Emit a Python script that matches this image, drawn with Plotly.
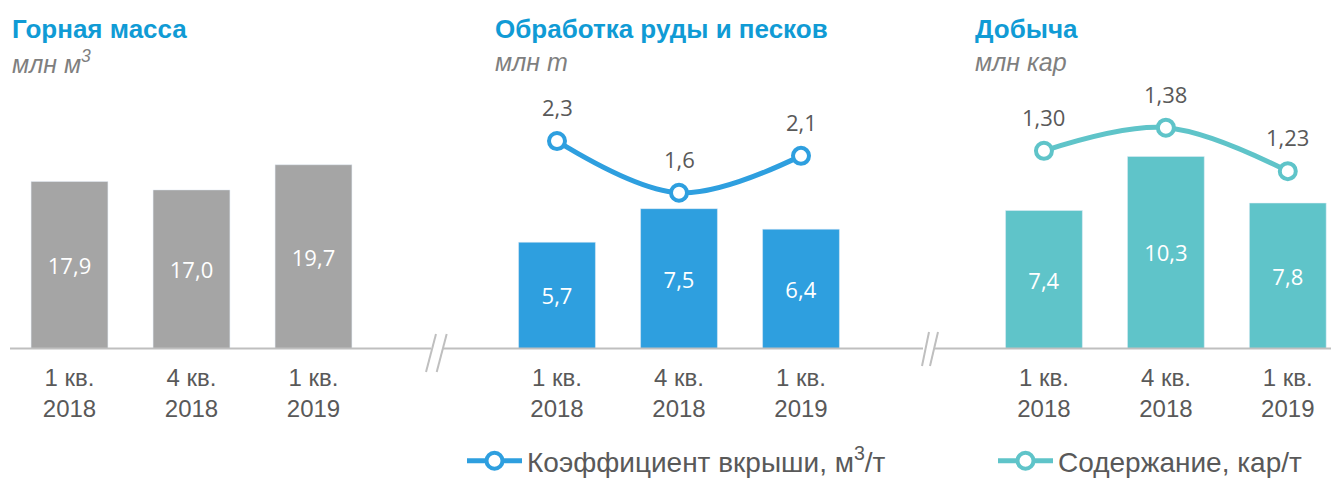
import plotly.graph_objects as go

# page (body) offset of the rendered figure
OX, OY = 8, 8
FW, FH = 1339 - OX, 479 - OY

# ---- data ----
quarters = ["1 кв.<br>2018", "4 кв.<br>2018", "1 кв.<br>2019"]
rock_mass = [17.9, 17.0, 19.7]            # млн м3
ore_processing = [5.7, 7.5, 6.4]          # млн т
stripping_ratio = [2.3, 1.6, 2.1]         # м3/т
production = [7.4, 10.3, 7.8]             # млн кар
grade = [1.30, 1.38, 1.23]                # кар/т

titles = ["Горная масса", "Обработка руды и песков", "Добыча"]
units = ["<i>млн м<sup>3</sup></i>", "<i>млн т</i>", "<i>млн кар</i>"]
legend_names = ["Коэффициент вкрыши, м<sup>3</sup>/т", "Содержание, кар/т"]

GRAY = "#A5A5A5"
BLUE = "#2E9FDF"
TEAL = "#5FC4C9"
TITLE_C = "#109BD5"
UNIT_C = "#7F7F7F"
TEXT_C = "#595959"
BASE_C = "#BFBFBF"


def fmt(v, d=1):
    return f"{v:.{d}f}".replace(".", ",")


def px_x(p):
    return (p - OX) / FW


def px_y(p):
    return (479 - p) / FH


ydom = [px_y(348.5), px_y(80)]

fig = go.Figure()

num_font = dict(family="Open Sans", size=22, color="white")

fig.add_trace(go.Bar(x=quarters, y=rock_mass, marker_color=GRAY,
                     text=[fmt(v) for v in rock_mass], textposition="inside",
                     insidetextanchor="middle", textangle=0, textfont=num_font,
                     xaxis="x", yaxis="y", showlegend=False, hoverinfo="skip"))
fig.add_trace(go.Bar(x=quarters, y=ore_processing, marker_color=BLUE,
                     text=[fmt(v) for v in ore_processing], textposition="inside",
                     insidetextanchor="middle", textangle=0, textfont=num_font,
                     xaxis="x2", yaxis="y2", showlegend=False, hoverinfo="skip"))
fig.add_trace(go.Bar(x=quarters, y=production, marker_color=TEAL,
                     text=[fmt(v) for v in production], textposition="inside",
                     insidetextanchor="middle", textangle=0, textfont=num_font,
                     xaxis="x3", yaxis="y4", showlegend=False, hoverinfo="skip"))

fig.add_trace(go.Scatter(x=quarters, y=stripping_ratio, mode="lines+markers",
                         name=legend_names[0], legend="legend",
                         line=dict(color=BLUE, width=5, shape="spline"),
                         marker=dict(size=16, color="white", line=dict(color=BLUE, width=4)),
                         xaxis="x2", yaxis="y3"))
fig.add_trace(go.Scatter(x=quarters, y=grade, mode="lines+markers",
                         name=legend_names[1], legend="legend2",
                         line=dict(color=TEAL, width=5, shape="spline"),
                         marker=dict(size=16, color="white", line=dict(color=TEAL, width=4)),
                         xaxis="x3", yaxis="y5"))

annotations = []
lbl_font = dict(family="Open Sans", size=22, color=TEXT_C)
for q, v in zip(quarters, stripping_ratio):
    annotations.append(dict(x=q, y=v, xref="x2", yref="y3", text=fmt(v, 1),
                            showarrow=False, yshift=34, font=lbl_font))
for q, v in zip(quarters, grade):
    annotations.append(dict(x=q, y=v, xref="x3", yref="y5", text=fmt(v, 2),
                            showarrow=False, yshift=34, font=lbl_font))

title_x = [10, 493, 973]
for tx, t, u in zip(title_x, titles, units):
    annotations.append(dict(x=px_x(tx), y=px_y(29), xref="paper", yref="paper",
                            xanchor="left", yanchor="middle", showarrow=False,
                            text=f"<b>{t}</b>",
                            font=dict(family="Liberation Sans", size=26, color=TITLE_C)))
    annotations.append(dict(x=px_x(tx), y=px_y(62), xref="paper", yref="paper",
                            xanchor="left", yanchor="middle", showarrow=False,
                            text=u,
                            font=dict(family="Liberation Sans", size=25, color=UNIT_C)))

# baseline with breaks
shapes = []
segments = [(10, 431), (443, 923), (935, 1339)]
for a, b in segments:
    shapes.append(dict(type="line", xref="paper", yref="paper",
                       x0=px_x(a), x1=px_x(b), y0=px_y(348.5), y1=px_y(348.5),
                       line=dict(color=BASE_C, width=2)))
breaks = [((436, 334), (426, 372)), ((446.7, 334), (436.7, 372)),
          ((929, 332), (922, 366)), ((938, 332), (930, 366))]
for (xa, ya), (xb, yb) in breaks:
    shapes.append(dict(type="line", xref="paper", yref="paper",
                       x0=px_x(xa), y0=px_y(ya), x1=px_x(xb), y1=px_y(yb),
                       line=dict(color=BASE_C, width=2)))

tick_font = dict(family="Liberation Sans", size=24, color=TEXT_C)
xcommon = dict(type="category", showgrid=False, zeroline=False, showline=False,
               ticks="", tickfont=tick_font, ticklabelstandoff=12)
ycommon = dict(visible=False, showgrid=False, zeroline=False, domain=ydom)

leg_font = dict(family="Liberation Sans", size=28, color=TEXT_C)

fig.update_layout(
    width=FW, height=FH,
    margin=dict(l=0, r=0, t=0, b=0, autoexpand=False),
    paper_bgcolor="white", plot_bgcolor="rgba(0,0,0,0)",
    bargap=0.37,
    xaxis=dict(domain=[max(0, px_x(8.5)), px_x(374.5)], range=[-0.5, 2.5], anchor="y", **xcommon),
    xaxis2=dict(domain=[px_x(496), px_x(862)], range=[-0.5, 2.5], anchor="y2", **xcommon),
    xaxis3=dict(domain=[px_x(983), 1.0], range=[-0.5, 2.42], anchor="y4", **xcommon),
    yaxis=dict(range=[0, 28.78], anchor="x", **ycommon),
    yaxis2=dict(range=[0, 14.40], anchor="x2", **ycommon),
    yaxis3=dict(range=[-0.510, 3.128], anchor="x2", overlaying="y2", **ycommon),
    yaxis4=dict(range=[0, 14.40], anchor="x3", **ycommon),
    yaxis5=dict(range=[0.6175, 1.5447], anchor="x3", overlaying="y4", **ycommon),
    showlegend=True,
    legend=dict(orientation="h", x=px_x(462), y=px_y(461), xanchor="left", yanchor="middle",
                font=leg_font, bgcolor="rgba(0,0,0,0)", itemwidth=55),
    legend2=dict(orientation="h", x=px_x(993), y=px_y(461), xanchor="left", yanchor="middle",
                 font=leg_font, bgcolor="rgba(0,0,0,0)", itemwidth=55),
    annotations=annotations,
    shapes=shapes,
)

fig.write_html("out.html")
